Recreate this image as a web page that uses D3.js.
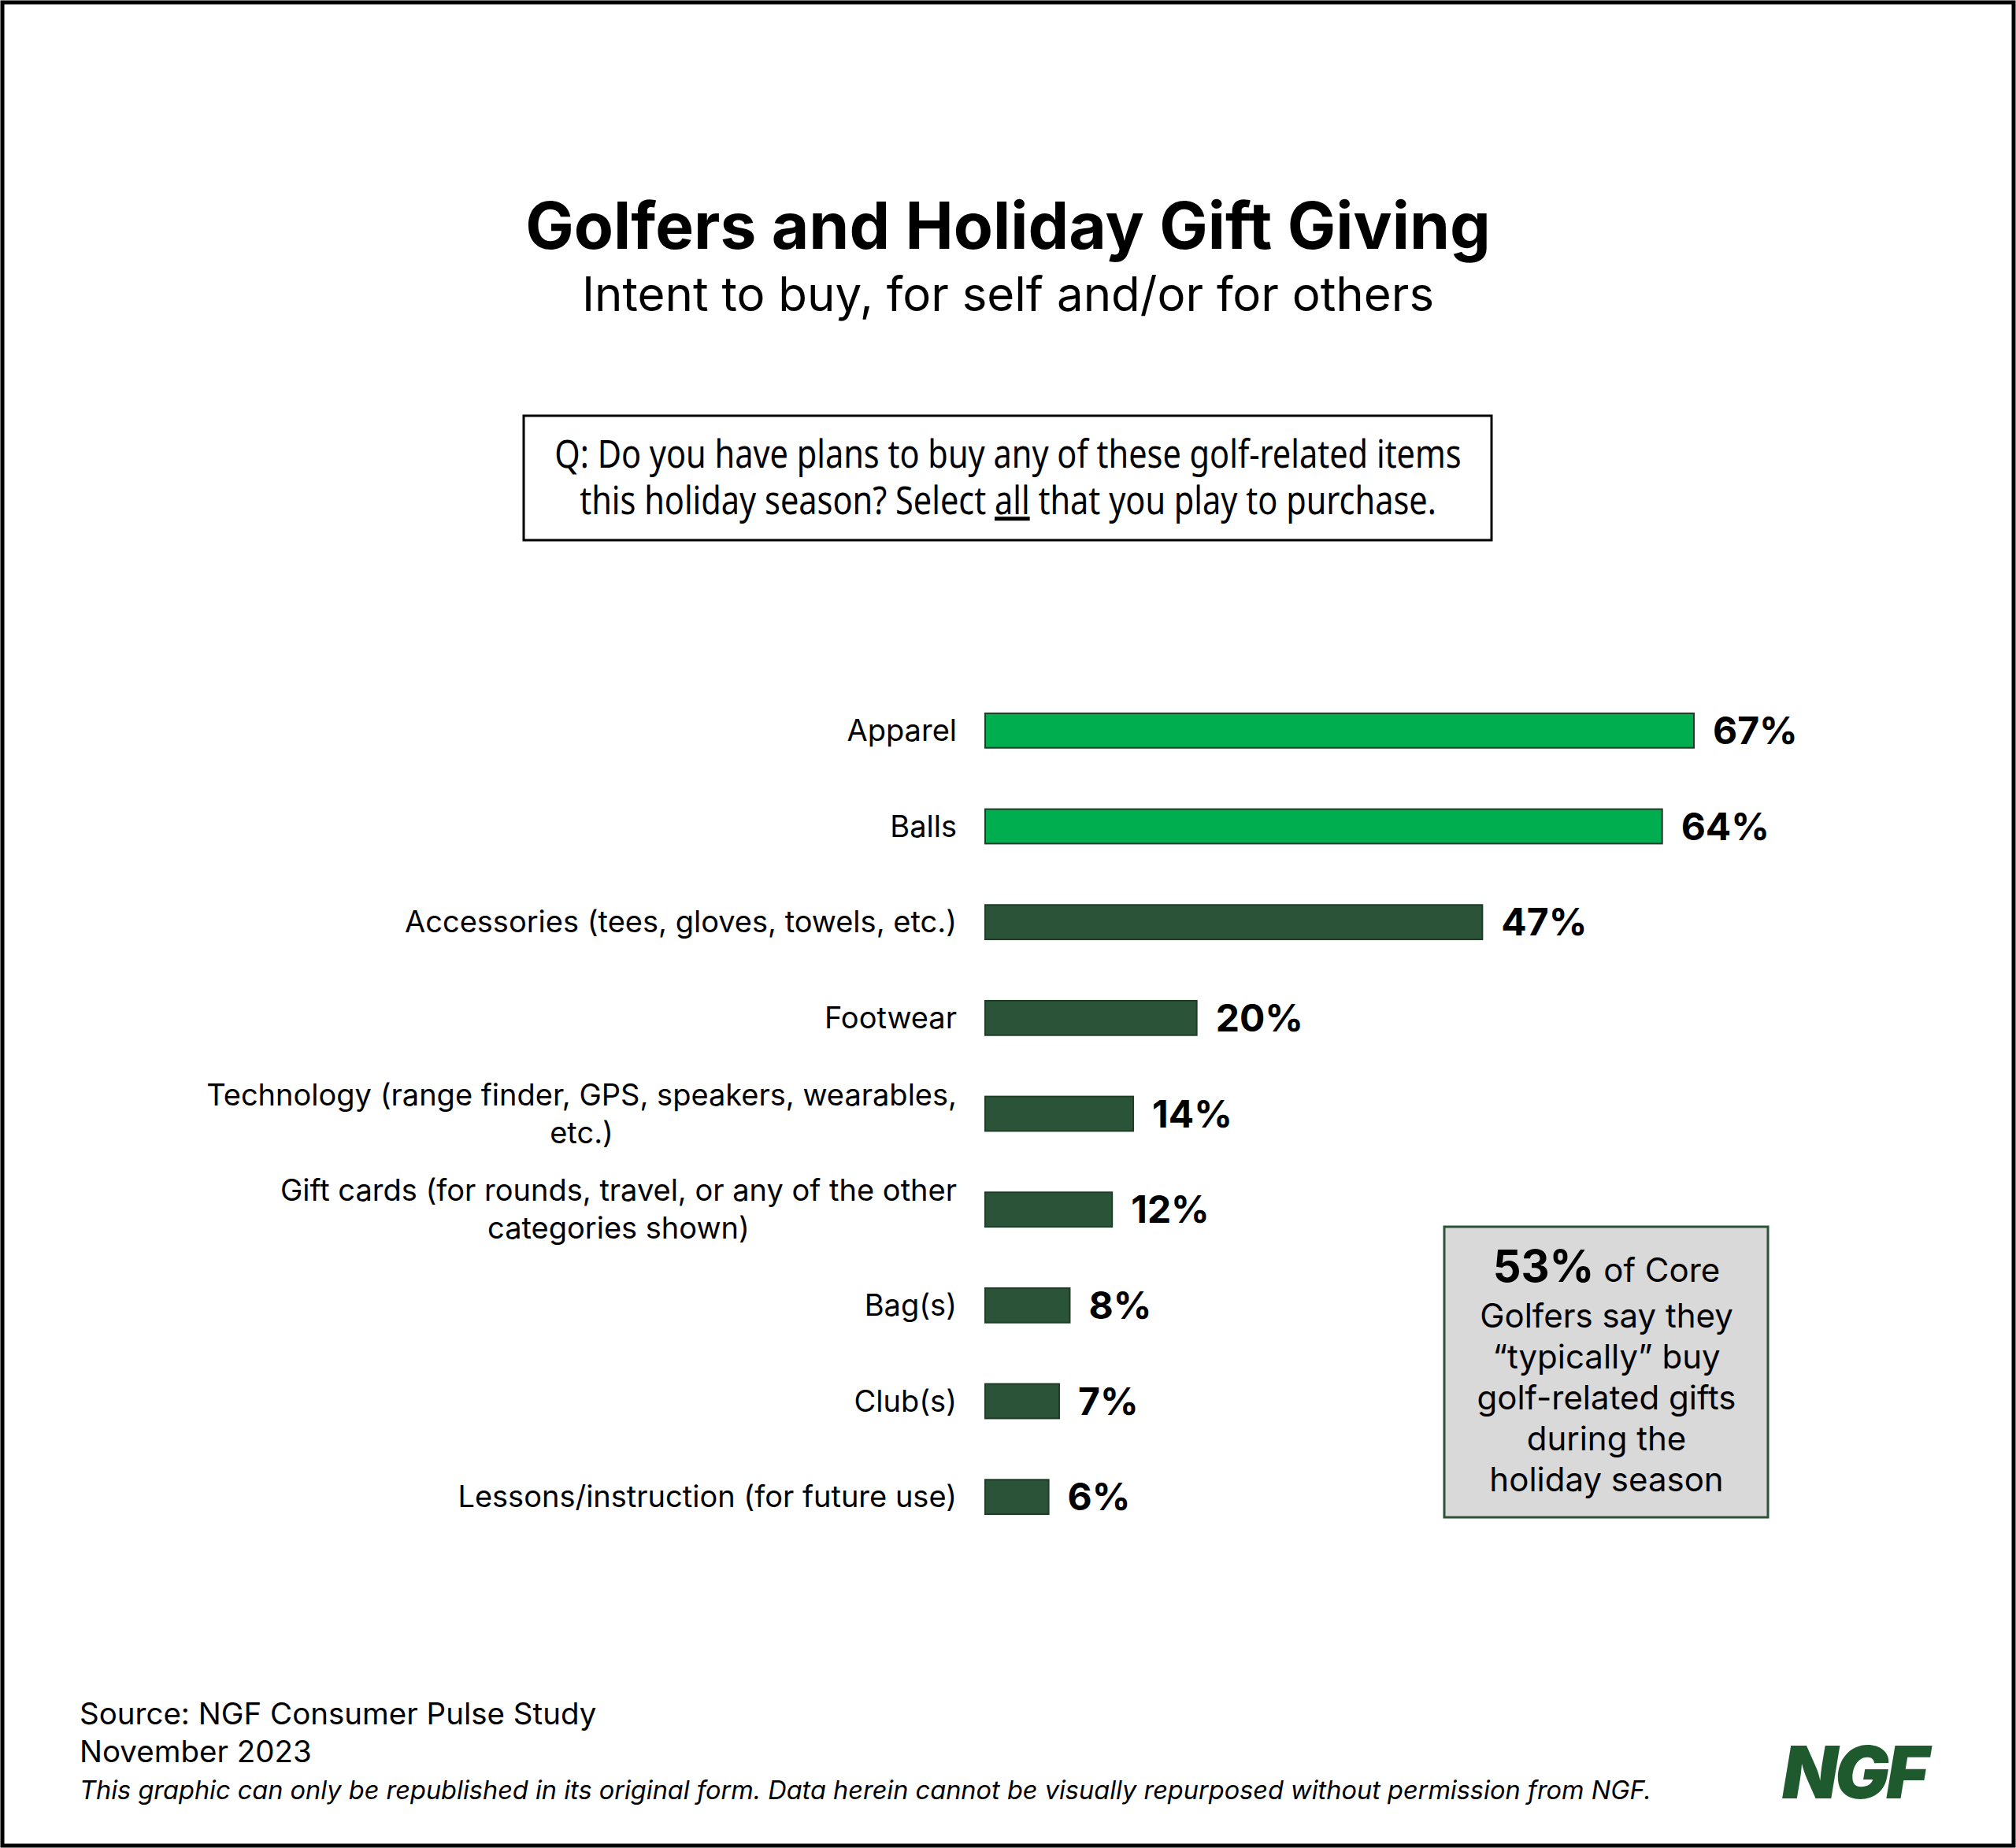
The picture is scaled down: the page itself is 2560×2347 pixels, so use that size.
<!DOCTYPE html>
<html><head><meta charset="utf-8">
<script src="https://cdn.jsdelivr.net/npm/d3@7"></script>
<style>body{margin:0;background:#fff}</style>
</head><body><div id="chart"></div>
<script>
let W = 2560, H = 2347
let categories = ['Apparel', 'Balls', 'Accessories (tees, gloves, towels, etc.)', 'Footwear',
  'Technology (range finder, GPS, speakers, wearables,|etc.)', 'Gift cards (for rounds, travel, or any of the other|categories shown)',
  'Bag(s)', 'Club(s)', 'Lessons/instruction (for future use)']
let values = [67, 64, 47, 20, 14, 12, 8, 7, 6]
let highlight = [true, true, false, false, false, false, false, false, false]

let font = "Inter, 'Noto Sans', sans-serif"
let svg = d3.select("#chart").append("svg").attr("width", W).attr("height", H)
svg.append("rect").attr("x", 3).attr("y", 3).attr("width", W - 6).attr("height", H - 6)
  .attr("fill", "#fff").attr("stroke", "#000").attr("stroke-width", 5)

svg.append("text").attr("x", 1280).attr("y", 316).attr("text-anchor", "middle")
  .attr("font-family", font).attr("font-weight", 700).attr("font-size", 82).text("Golfers and Holiday Gift Giving")
svg.append("text").attr("x", 1280).attr("y", 395).attr("text-anchor", "middle")
  .attr("font-family", font).attr("font-size", 60).text("Intent to buy, for self and/or for others")

// question box, condensed text squeezed with scaleX
svg.append("rect").attr("x", 665).attr("y", 528).attr("width", 1229).attr("height", 158)
  .attr("fill", "none").attr("stroke", "#000").attr("stroke-width", 3)
let qg = svg.append("g").attr("transform", "translate(1280,0) scale(0.83,1)")
let qf = "'Noto Sans', sans-serif"
qg.append("text").attr("x", 0).attr("y", 594).attr("text-anchor", "middle")
  .attr("font-family", qf).attr("font-size", 50).text("Q: Do you have plans to buy any of these golf-related items")
qg.append("text").attr("x", 0).attr("y", 653).attr("text-anchor", "middle")
  .attr("font-family", qf).attr("font-size", 50)
  .html('this holiday season? Select <tspan text-decoration="underline">all</tspan> that you play to purchase.')

let x = d3.scaleLinear().domain([0, 67]).range([1251, 2151])
let y = d3.scaleBand().domain(categories).range([867, 1962]).paddingInner(0.64).paddingOuter(0.32)

let rows = svg.append("g").selectAll("g").data(categories).join("g")
rows.append("rect").attr("x", x(0)).attr("y", d => y(d))
  .attr("width", (d, i) => x(values[i]) - x(0)).attr("height", y.bandwidth())
  .attr("fill", (d, i) => highlight[i] ? "#00ae4f" : "#2b5338")
  .attr("stroke", "#1e3d28").attr("stroke-width", 2)
rows.append("text").attr("x", (d, i) => x(values[i]) + 24).attr("y", d => y(d) + y.bandwidth() / 2)
  .attr("dy", "0.36em").attr("font-family", font).attr("font-weight", 700).attr("font-size", 48)
  .text((d, i) => values[i] + "%")
rows.each(function (d) {
  let lines = d.split("|")
  let cy = y(d) + y.bandwidth() / 2
  let first = null
  lines.forEach((l, j) => {
    let t = d3.select(this).append("text").attr("text-anchor", "end").attr("x", 1215)
      .attr("font-family", font).attr("font-size", 38)
      .attr("y", cy + (j - (lines.length - 1) / 2) * 48).attr("dy", "0.35em").text(l)
    if (j == 0) first = t.node().getComputedTextLength()
    else t.attr("x", 1215 - first / 2).attr("text-anchor", "middle")
  })
})

// callout
svg.append("rect").attr("x", 1834).attr("y", 1558).attr("width", 411).attr("height", 369)
  .attr("fill", "#d9d9d9").attr("stroke", "#2b5338").attr("stroke-width", 3)
svg.append("text").attr("x", 2040).attr("y", 1628).attr("text-anchor", "middle")
  .attr("font-family", font).attr("font-size", 42)
  .html('<tspan font-weight="700" font-size="56">53%</tspan> of Core')
;["Golfers say they", "\u201ctypically\u201d buy", "golf-related gifts", "during the", "holiday season"].forEach((l, i) => {
  svg.append("text").attr("x", 2040).attr("y", 1686 + i * 52).attr("text-anchor", "middle")
    .attr("font-family", font).attr("font-size", 42).text(l)
})

// footer
svg.append("text").attr("x", 101).attr("y", 2190).attr("font-family", font).attr("font-size", 38.5).text("Source: NGF Consumer Pulse Study")
svg.append("text").attr("x", 101).attr("y", 2238).attr("font-family", font).attr("font-size", 38.5).text("November 2023")
svg.append("text").attr("x", 101).attr("y", 2285).attr("font-family", font).attr("font-style", "italic").attr("font-size", 32.5)
  .text("This graphic can only be republished in its original form. Data herein cannot be visually repurposed without permission from NGF.")
svg.append("text").attr("x", 2354).attr("y", 2284).attr("text-anchor", "middle")
  .attr("font-family", font).attr("font-weight", 900).attr("font-style", "italic").attr("font-size", 92)
  .attr("fill", "#1f5a2e").attr("letter-spacing", -4).text("NGF")
</script></body></html>
